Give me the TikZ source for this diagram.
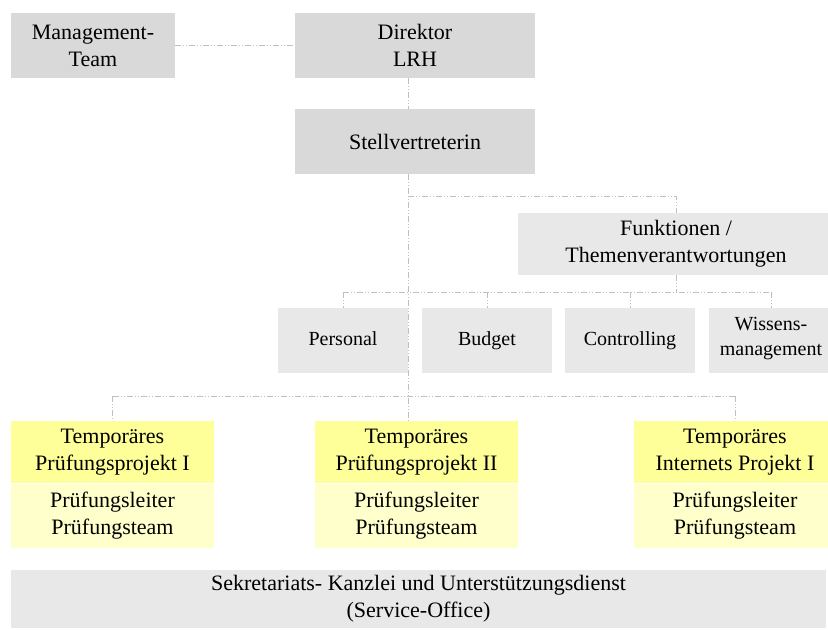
\documentclass[tikz,border=0pt]{standalone}
\usepackage{fontspec}
\setmainfont{Liberation Serif}
\usetikzlibrary{positioning}
\definecolor{boxgray}{HTML}{D9D9D9}
\definecolor{boxlight}{HTML}{E8E8E8}
\definecolor{projtop}{HTML}{FFFF99}
\definecolor{projbot}{HTML}{FFFFCC}
\definecolor{linkgray}{HTML}{BFBFBF}
\tikzset{node distance=0pt, auto,
  orgbox/.style={fill=boxgray, inner sep=0pt, align=center, minimum height=48.75pt,
    font=\fontsize{16.5}{20.25}\selectfont},
  funcbox/.style={orgbox, fill=boxlight},
  subbox/.style={funcbox, minimum width=97.5pt, font=\fontsize{15}{18.75}\selectfont,
    execute at begin node=\strut},
  projbox/.style={orgbox, fill=projtop, minimum width=152.25pt, minimum height=46.5pt},
  teambox/.style={projbox, fill=projbot, minimum height=48pt},
  link/.style={draw=linkgray, line width=0.75pt,
    dash pattern=on 4.5pt off 1.5pt on 0.75pt off 1.5pt on 0.75pt off 1.5pt}}

\begin{document}
\begin{tikzpicture}[x=0.75pt, y=-0.75pt]
		\useasboundingbox (0,0) rectangle (828,629);
		\node(mgmt)[orgbox, minimum width=123pt] at (93,45.5){Management-\\Team};
		\node(dir)[orgbox, minimum width=180pt] at (415,45.5){Direktor\\LRH};
		\node(stv)[orgbox, minimum width=180pt] at (415,141.5){Stellvertreterin};
		\node(fkt)[funcbox, minimum width=237pt, minimum height=46.5pt] at (676,244){Funktionen /\\Themenverantwortungen};
		\node(pers)[subbox] at (343,340.5){Personal};
		\node(budg)[subbox] at (487,340.5){Budget};
		\node(ctrl)[subbox] at (630,340.5){Controlling};
		\node(wiss)[subbox, minimum width=93pt] at (771,340.5){Wissens-\\management};
		\node(p1top)[projbox] at (112.5,452){Temporäres\\Prüfungsprojekt I};
		\node(p1bot)[teambox, below=of p1top]{Prüfungsleiter\\Prüfungsteam};
		\node(p2top)[projbox] at (416.5,452){Temporäres\\Prüfungsprojekt II};
		\node(p2bot)[teambox, below=of p2top]{Prüfungsleiter\\Prüfungsteam};
		\node(p3top)[projbox] at (735,452){Temporäres\\Internets Projekt I};
		\node(p3bot)[teambox, below=of p3top]{Prüfungsleiter\\Prüfungsteam};
		\node(sek)[funcbox, minimum width=611.25pt, minimum height=43.5pt] at (418.5,599){Sekretariats- Kanzlei und Unterstützungsdienst\\(Service-Office)};
		\coordinate(spine) at (408,0);
		\coordinate(fktbus) at (0,196);
		\coordinate(subbus) at (0,292);
		\coordinate(projbus) at (0,396);
		\draw[link](mgmt) -- (dir);
		\draw[link](dir.south -| spine) -- (stv.north -| spine);
		\draw[link](stv.south -| spine) -- (p2top.north -| spine);
		\draw[link](spine |- fktbus) -| (fkt.north);
		\draw[link](fkt.south) -- (fkt.south |- subbus);
		\draw[link](pers.north |- subbus) -- (wiss.north |- subbus);
		\foreach \n in {pers,budg,ctrl,wiss}
			\draw[link](\n.north |- subbus) -- (\n.north);
		\draw[link](p1top.north |- projbus) -- (p3top.north |- projbus);
		\foreach \n in {p1top,p3top}
			\draw[link](\n.north |- projbus) -- (\n.north);
	\end{tikzpicture}
\end{document}
